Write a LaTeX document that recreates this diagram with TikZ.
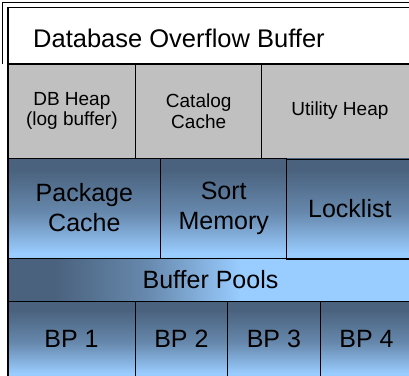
\documentclass[tikz,border=0pt]{standalone}
\usepackage{fontspec}
\setmainfont{Liberation Sans}
\definecolor{slate}{RGB}{74,98,126}
\definecolor{sky}{RGB}{153,204,255}
\colorlet{midblue}{sky!37!slate}
\definecolor{heapgray}{RGB}{192,192,192}
\tikzset{
  cell/.style={draw=black, line width=0.9pt, rectangle, inner sep=0pt, align=center, text=black},
  bigtext/.style={font=\fontsize{25}{30}\selectfont},
  heapcell/.style={cell, fill=heapgray, font=\fontsize{19}{20.5}\selectfont, minimum height=94pt},
  rowA/.style={cell, bigtext, minimum height=100pt},
  rowB/.style={cell, bigtext, minimum height=76pt},
  fadeA/.style={top color=slate, bottom color=midblue},
  fadeB/.style={top color=midblue, bottom color=sky},
}
\begin{document}
\begin{tikzpicture}[x=1pt, y=1pt]
  \useasboundingbox (0,0) rectangle (409,-375);
  \clip (0,0) rectangle (409,-375);
  \fill[white] (0,0) rectangle (409,-375);

  % overflow buffer title
  \node[anchor=base west, font=\fontsize{25.5}{30}\selectfont, inner sep=0pt] (dob) at (33,-47.5) {Database Overflow Buffer};

  % heap row
  \node[heapcell, minimum width=127.7pt] (dbheap) at (71.85,-111) {DB Heap\\(log buffer)};
  \node[heapcell, minimum width=126pt] (catalog) at (198.7,-111) {Catalog\\Cache};
  \node[heapcell, minimum width=156.3pt] (utility) at (339.85,-111) {Utility Heap};

  % blue backgrounds: dark top band, two-stage fade, light bottom band
  \fill[slate] (8,-158) rectangle (413,-170.3);
  \shade[fadeA] (8,-170) rectangle (413,-213.3);
  \shade[fadeB] (8,-213) rectangle (413,-253.3);
  \fill[sky] (8,-253) rectangle (413,-258);

  \fill[slate] (8,-301) rectangle (413,-310.3);
  \shade[fadeA] (8,-310) rectangle (413,-343.3);
  \shade[fadeB] (8,-343) rectangle (413,-373.3);
  \fill[sky] (8,-373) rectangle (413,-377);

  % banner fades from the left
  \fill[slate] (8,-258) rectangle (55.3,-301);
  \shade[left color=slate, right color=midblue] (55,-258) rectangle (147.8,-301);
  \shade[left color=midblue, right color=sky] (147.5,-258) rectangle (240.3,-301);
  \fill[sky] (240,-258) rectangle (413,-301);

  % package cache, sort memory, locklist
  \node[rowA, minimum width=152.7pt] (package) at (84.35,-208) {Package\\Cache};
  \node[rowA, minimum width=126pt] (sort) at (223.7,-208) {Sort\\Memory};
  \node[rowA, minimum width=126.3pt] (locklist) at (349.85,-209) {Locklist};

  % buffer pools banner
  \node[cell, bigtext, minimum width=405pt, minimum height=43pt] (pools) at (210.5,-279.5) {Buffer Pools};

  % individual buffer pools
  \node[rowB, minimum width=127pt] (bp1) at (71.5,-339) {BP 1};
  \node[rowB, minimum width=92.7pt] (bp2) at (181.35,-339) {BP 2};
  \node[rowB, minimum width=92.3pt] (bp3) at (273.85,-339) {BP 3};
  \node[rowB, minimum width=93pt] (bp4) at (366.5,-339) {BP 4};

  % double frame at the top and heavy left edge
  \draw[line width=1pt] (2.5,-64) -- (2.5,-2.5) -- (420,-2.5);
  \draw[line width=1.6pt] (7.8,-380) -- (7.8,-7.5) -- (420,-7.5);
  \draw[line width=1.4pt] (7.8,-64) -- (420,-64);
\end{tikzpicture}
\end{document}
